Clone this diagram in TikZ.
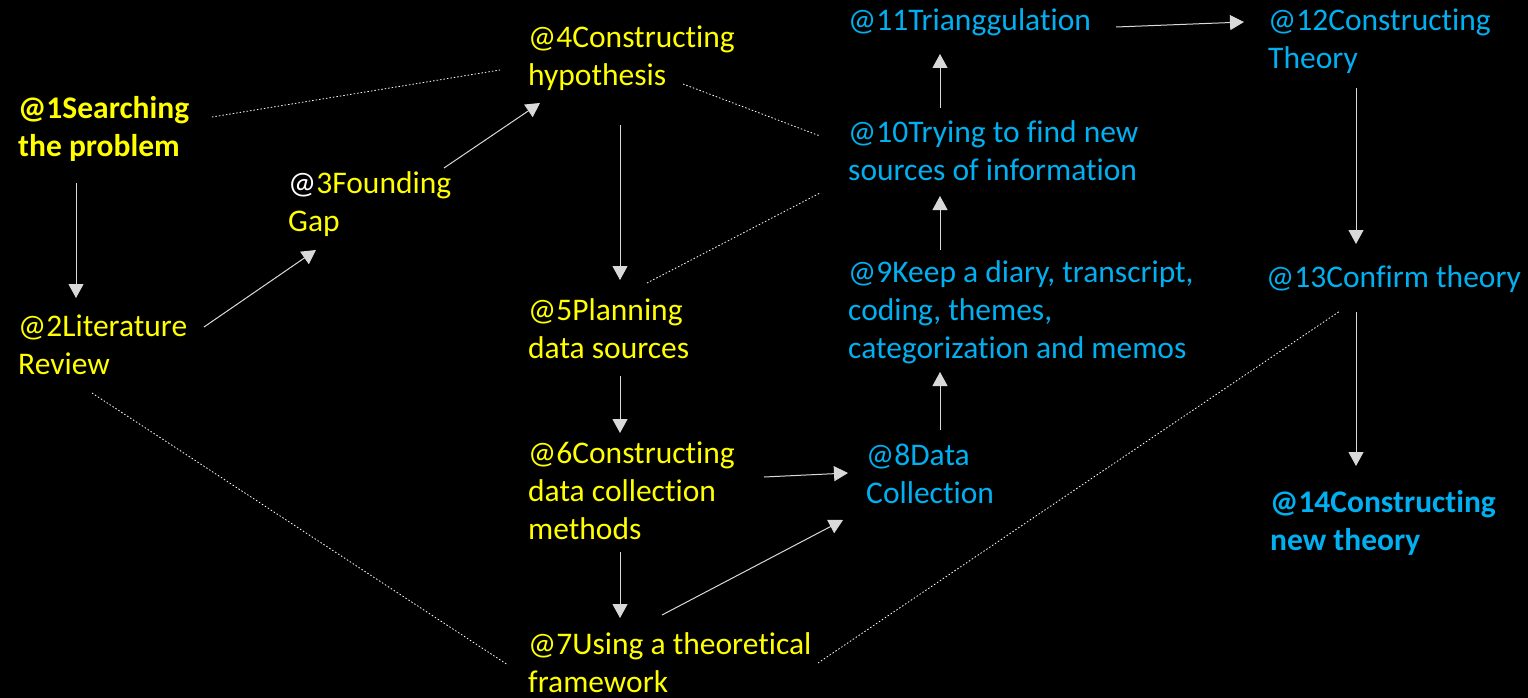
\documentclass[tikz,border=0pt]{standalone}
\usepackage{fontspec}
\setmainfont{Carlito}[Ligatures=NoCommon]
\usepackage{tikz}
\usetikzlibrary{arrows.meta}
\definecolor{stepyellow}{RGB}{255,255,0}
\definecolor{stepcyan}{RGB}{0,176,240}

\begin{document}
\begin{tikzpicture}[
    x=1pt, y=-1pt,
    stage/.style={anchor=base west, inner sep=0pt, align=left, font=\fontsize{31.5}{38}\selectfont},
    early/.style={stage, text=stepyellow},
    late/.style={stage, text=stepcyan},
    arrow/.style={-{Triangle[width=15pt,length=14pt]}, line width=1pt, draw=white!85!black},
    link/.style={draw=white, line width=0.8pt, dash pattern=on 1.5pt off 2pt}
]
    \fill[black] (0,0) rectangle (1528,698);
    \useasboundingbox (0,0) rectangle (1528,698);

    % nodes sit on the baseline of their last line
    \node[early, font=\fontsize{31.5}{38}\selectfont\bfseries] (s1) at (18,157) {@1Searching\\the problem};
    \node[early] (s2) at (18,374) {@2Literature\\Review};
    \node[early] (s3) at (288,231) {{\color{white}@}3Founding\\Gap};
    \node[early] (s4) at (528,86) {@4Constructing\\hypothesis};
    \node[early] (s5) at (528,358) {@5Planning\\data sources};
    \node[early] (s6) at (528,539) {@6Constructing\\data collection\\methods};
    \node[early] (s7) at (528,692) {@7Using a theoretical\\framework};
    \node[late] (s8) at (866,503) {@8Data\\Collection};
    \node[late] (s9) at (848,358) {@9Keep a diary, transcript,\\coding, themes,\\categorization and memos};
    \node[late] (s10) at (848,180) {@10Trying to find new\\sources of information};
    \node[late] (s11) at (848,31) {@11Trianggulation};
    \node[late] (s12) at (1268,69) {@12Constructing\\Theory};
    \node[late] (s13) at (1266,287) {@13Confirm theory};
    \node[late, font=\fontsize{31.5}{38}\selectfont\bfseries] (s14) at (1270,550) {@14Constructing\\new theory};

    \draw[arrow] ([shift={(58,26)}]s1.base west) -- ([shift={(58,-76)}]s2.base west);
    \draw[arrow] ([shift={(186,-47)}]s2.base west) -- ([shift={(28,19)}]s3.base west);
    \draw[arrow] ([shift={(156,-63)}]s3.base west) -- ([shift={(12,17)}]s4.base west);
    \draw[arrow] ([shift={(92,39)}]s4.base west) -- ([shift={(92,-78)}]s5.base west);
    \draw[arrow] ([shift={(92,18)}]s5.base west) -- ([shift={(92,-106)}]s6.base west);
    \draw[arrow] ([shift={(92,13)}]s6.base west) -- ([shift={(92,-74)}]s7.base west);
    \draw[arrow] ([shift={(236,-62)}]s6.base west) -- ([shift={(-18,-30)}]s8.base west);
    \draw[arrow] ([shift={(134,-77)}]s7.base west) -- ([shift={(-23,17)}]s8.base west);
    \draw[arrow] ([shift={(74,-73)}]s8.base west) -- ([shift={(92,14)}]s9.base west);
    \draw[arrow] ([shift={(92,-108)}]s9.base west) -- ([shift={(92,16)}]s10.base west);
    \draw[arrow] ([shift={(92,-72)}]s10.base west) -- ([shift={(92,23)}]s11.base west);
    \draw[arrow] ([shift={(268,-4)}]s11.base west) -- ([shift={(-24,-47)}]s12.base west);
    \draw[arrow] ([shift={(88,19)}]s12.base west) -- ([shift={(90,-43)}]s13.base west);
    \draw[arrow] ([shift={(90,25)}]s13.base west) -- ([shift={(86,-84)}]s14.base west);

    % dotted links
    \draw[link] ([shift={(194,-40)}]s1.base west) -- ([shift={(-28,-16)}]s4.base west);
    \draw[link] ([shift={(155,-2)}]s4.base west) -- ([shift={(-28,-44)}]s10.base west);
    \draw[link] ([shift={(119,-75)}]s5.base west) -- ([shift={(-28,13)}]s10.base west);
    \draw[link] ([shift={(74,19)}]s2.base west) -- ([shift={(-20,-27)}]s7.base west);
    \draw[link] ([shift={(290,-29)}]s7.base west) -- ([shift={(74,24)}]s13.base west);
\end{tikzpicture}
\end{document}
